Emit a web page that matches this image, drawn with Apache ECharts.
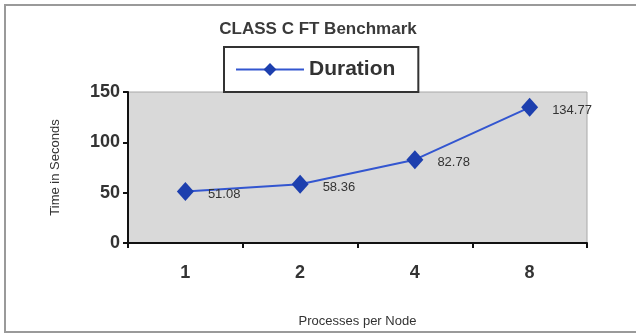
<!DOCTYPE html>
<html>
<head>
<meta charset="utf-8">
<script src="https://cdn.jsdelivr.net/npm/echarts@6/dist/echarts.min.js"></script>
<style>
  html, body { margin: 0; padding: 0; background: #fff; }
  #chart { width: 636px; height: 335px; }
</style>
</head>
<body>
<div id="chart"></div>
<script>
const categories = ['1', '2', '4', '8']
const durations = [51.08, 58.36, 82.78, 134.77]
const yTicks = [0, 50, 100, 150]

const chart = echarts.init(document.getElementById('chart'))
const option = {
  backgroundColor: '#fff',
  textStyle: { fontFamily: 'Liberation Sans, Arial, sans-serif' },
  graphic: [
    {
      // scanned frame around the chart
      type: 'polyline',
      shape: { points: [[636, 5], [5, 5], [5, 332], [636, 332]] },
      style: { stroke: '#9a9a9a', lineWidth: 2, fill: null }
    }
  ],
  title: {
    text: 'CLASS C FT Benchmark',
    left: 'center',
    top: 16,
    textStyle: { fontSize: 17, fontWeight: 'bold', color: '#3a3a3a' }
  },
  legend: {
    left: 224,
    top: 47,
    padding: [12, 23, 12, 11],
    borderColor: '#333',
    borderWidth: 2,
    backgroundColor: '#fff',
    itemWidth: 68,
    itemHeight: 16,
    itemGap: 5,
    textStyle: { fontSize: 21, fontWeight: 'bold', color: '#333' },
    data: [{ name: 'Duration' }]
  },
  grid: {
    left: 128,
    right: 49,
    top: 92,
    bottom: 92,
    show: true,
    backgroundColor: '#d9d9d9',
    borderColor: '#a8a8a8',
    borderWidth: 1,
    z: 0
  },
  xAxis: {
    type: 'category',
    data: categories,
    boundaryGap: true,
    name: 'Processes per Node',
    nameLocation: 'middle',
    nameGap: 72,
    nameTextStyle: { fontSize: 13, color: '#333' },
    axisLine: { lineStyle: { color: '#111', width: 2 } },
    axisTick: { show: true, length: 5, lineStyle: { color: '#111', width: 2 } },
    axisLabel: { fontSize: 18, fontWeight: 'bold', color: '#333', margin: 21 },
    splitLine: { show: false }
  },
  yAxis: {
    type: 'value',
    min: yTicks[0],
    max: yTicks[yTicks.length - 1],
    interval: yTicks[1] - yTicks[0],
    name: 'Time in Seconds',
    nameLocation: 'middle',
    nameGap: 66,
    nameTextStyle: { fontSize: 13, color: '#333' },
    axisLine: { show: true, lineStyle: { color: '#111', width: 2 } },
    axisTick: { show: true, length: 5, lineStyle: { color: '#111', width: 2 } },
    axisLabel: { fontSize: 18, fontWeight: 'bold', color: '#333', margin: 8 },
    splitLine: { show: false }
  },
  series: [
    {
      name: 'Duration',
      type: 'line',
      data: durations,
      symbol: 'diamond',
      symbolSize: [17, 19],
      lineStyle: { color: '#3356d0', width: 2 },
      itemStyle: { color: '#1d3fae' },
      label: {
        show: true,
        position: 'right',
        distance: 14,
        offset: [0, 3],
        fontSize: 13,
        color: '#333',
        formatter: (p) => p.value.toFixed(2)
      }
    }
  ]
}
chart.setOption(option)
</script>
</body>
</html>
